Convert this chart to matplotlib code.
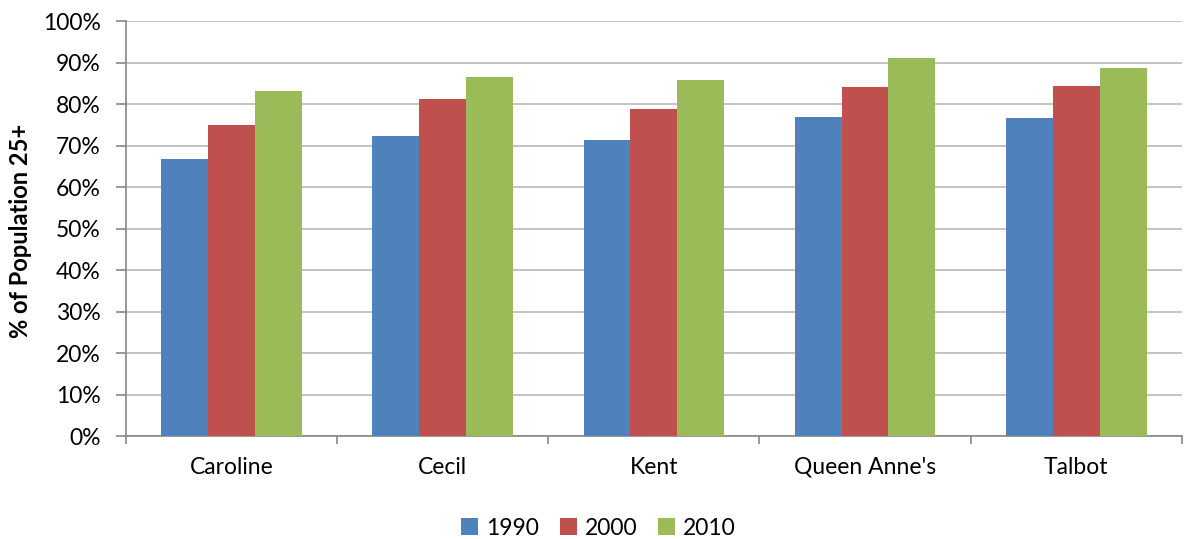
import numpy as np
import matplotlib.pyplot as plt
from matplotlib.ticker import PercentFormatter

# ---- data ----
counties = ["Caroline", "Cecil", "Kent", "Queen Anne's", "Talbot"]
years = ["1990", "2000", "2010"]
pct_1990 = [66.8, 72.2, 71.3, 76.8, 76.6]
pct_2000 = [75.0, 81.1, 78.8, 84.2, 84.4]
pct_2010 = [83.2, 86.6, 85.9, 91.0, 88.8]
colors = ["#4F81BD", "#C0504D", "#9BBB59"]

plt.rcParams["font.family"] = ["Lato", "DejaVu Sans"]

fig = plt.figure(figsize=(11.85, 5.39), dpi=100)
ax = fig.add_axes([0.1063, 0.191, 0.891, 0.770])

x = np.arange(len(counties))
w = 0.222
for i, (vals, yr) in enumerate(zip([pct_1990, pct_2000, pct_2010], years)):
    ax.bar(x + (i - 1) * w, vals, width=w, color=colors[i], label=yr, zorder=3)

ax.set_xlim(-0.5, len(counties) - 0.5)
ax.set_ylim(0, 100)
ax.set_yticks(np.arange(0, 101, 10))
ax.yaxis.set_major_formatter(PercentFormatter(decimals=0))
ax.grid(axis="y", color="#BEBEBE", linewidth=1.3, zorder=0)

# category ticks sit between groups
ax.set_xticks(np.arange(-0.5, len(counties), 1.0))
ax.set_xticklabels([])
ax.set_xticks(x, minor=True)
ax.set_xticklabels(counties, minor=True)
ax.tick_params(axis="x", which="minor", length=0, pad=15, labelsize=16.5)
ax.tick_params(axis="x", which="major", length=6, color="#868686", width=1.2)
ax.tick_params(axis="y", length=7, color="#868686", width=1.2, labelsize=16.5, pad=11)

for s in ["top", "right"]:
    ax.spines[s].set_visible(False)
for s in ["left", "bottom"]:
    ax.spines[s].set_color("#868686")
    ax.spines[s].set_linewidth(1.2)

ax.set_ylabel("% of Population 25+", fontsize=17, fontweight="bold")
ax.yaxis.set_label_coords(-0.089, 0.495)

fig.legend(loc="lower center", bbox_to_anchor=(0.505, -0.038), ncol=3, frameon=False,
           fontsize=16.5, handlelength=0.75, handleheight=0.75, handletextpad=0.35,
           columnspacing=0.9)

fig.savefig("out.png", dpi=100)
